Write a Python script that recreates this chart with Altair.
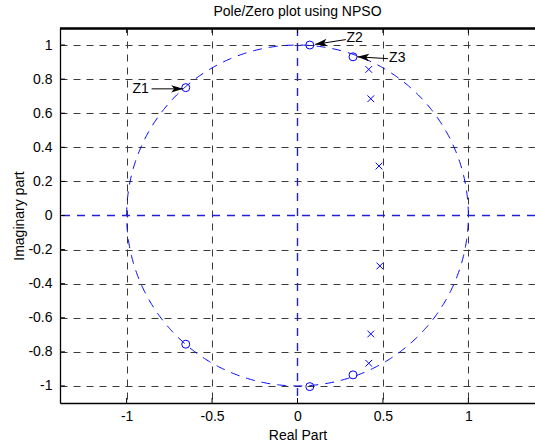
import math
import numpy as np
import pandas as pd
import altair as alt

# Zeros (o) and poles (x) of the NPSO filter in the z-plane
zero_re = [-0.654, 0.072, 0.325, -0.654, 0.072, 0.325]
zero_im = [0.750, 1.000, 0.931, -0.755, -1.004, -0.935]
pole_re = [0.417, 0.429, 0.477, 0.482, 0.429, 0.417]
pole_im = [0.857, 0.685, 0.290, -0.296, -0.695, -0.867]

# Annotations: label text/position and arrow tail -> head
ann_text = ["Z1", "Z2", "Z3"]
ann_align = ["right", "left", "left"]
ann_text_re = [-0.870, 0.287, 0.536]
ann_text_im = [0.743, 1.040, 0.925]
ann_tail_re = [-0.854, 0.283, 0.530]
ann_tail_im = [0.743, 1.032, 0.920]
ann_head_re = [-0.669, 0.103, 0.349]
ann_head_im = [0.743, 1.004, 0.931]

x_ticks = [-1, -0.5, 0, 0.5, 1]
y_ticks = [-1, -0.8, -0.6, -0.4, -0.2, 0, 0.2, 0.4, 0.6, 0.8, 1]

X_DOMAIN = [-1.39, 1.39]
Y_DOMAIN = [-1.1, 1.1]
W, H = 475, 375
FONT = "Liberation Sans"
FS = 14
BLUE = "#0000ff"
AXIS_BLUE = "#2020d8"

xs = alt.Scale(domain=X_DOMAIN, nice=False, zero=False)
ys = alt.Scale(domain=Y_DOMAIN, nice=False, zero=False)

# grid is hidden on the zero lines, which carry the blue real/imaginary axes instead
no_zero_grid = {"condition": {"test": "datum.value === 0", "value": 0}, "value": 1}

x_axis = alt.Axis(
    values=x_ticks, title="Real Part", grid=True, gridDash=[7, 6], gridColor="#3a3a3a",
    gridWidth=1, gridOpacity=no_zero_grid, ticks=False, tickSize=0, labelPadding=6.5,
    labelExpr="'' + datum.value", domainColor="black", domainWidth=1.3,
    titleX=W / 2, titleY=36.4, titleAlign="center", titleBaseline="alphabetic",
)
y_axis = alt.Axis(
    values=y_ticks, title="Imaginary part", grid=True, gridDash=[7, 6], gridColor="#3a3a3a",
    gridWidth=1, gridOpacity=no_zero_grid, ticks=False, tickSize=0, labelPadding=8,
    labelExpr="'' + datum.value", domainColor="black", domainWidth=1.3,
    titleAngle=270, titleX=-37, titleY=H / 2, titleAlign="center",
    titleBaseline="alphabetic",
)


def X(field):
    return alt.X(field, scale=xs, axis=x_axis)


def Y(field):
    return alt.Y(field, scale=ys, axis=y_axis)


# unit circle reference
theta = np.linspace(0, 2 * np.pi, 721)
circle_df = pd.DataFrame({"re": np.cos(theta), "im": np.sin(theta), "k": np.arange(theta.size)})

zeros_df = pd.DataFrame({"re": zero_re, "im": zero_im})
poles_df = pd.DataFrame({"re": pole_re, "im": pole_im})

# arrow-head rotation from the arrow direction in screen space
sx = W / (X_DOMAIN[1] - X_DOMAIN[0])
sy = H / (Y_DOMAIN[1] - Y_DOMAIN[0])
angles = [
    math.degrees(math.atan2(-(hy - ty) * sy, (hx - tx) * sx)) % 360
    for tx, ty, hx, hy in zip(ann_tail_re, ann_tail_im, ann_head_re, ann_head_im)
]
ann_df = pd.DataFrame({
    "text": ann_text, "align": ann_align,
    "tre": ann_text_re, "tim": ann_text_im,
    "re": ann_tail_re, "im": ann_tail_im,
    "re2": ann_head_re, "im2": ann_head_im,
    "ang": angles,
})

unit_circle = alt.Chart(circle_df).mark_line(
    color=BLUE, strokeWidth=1, strokeDash=[9, 7]
).encode(x=X("re:Q"), y=Y("im:Q"), order="k:Q")

vline = alt.Chart(pd.DataFrame({"re": [0]})).mark_rule(
    color=AXIS_BLUE, strokeWidth=1.4, strokeDash=[8, 7]
).encode(x=X("re:Q"))
hline = alt.Chart(pd.DataFrame({"im": [0]})).mark_rule(
    color=AXIS_BLUE, strokeWidth=1.7, strokeDash=[8, 7]
).encode(y=Y("im:Q"))

zeros = alt.Chart(zeros_df).mark_point(
    shape="circle", size=64, filled=False, color=BLUE, strokeWidth=1, opacity=1
).encode(x=X("re:Q"), y=Y("im:Q"))

poles = alt.Chart(poles_df).mark_point(
    shape="M-1,-1L1,1M-1,1L1,-1", size=45, filled=False, color=BLUE, strokeWidth=1, opacity=1
).encode(x=X("re:Q"), y=Y("im:Q"))

arrows = alt.Chart(ann_df).mark_rule(color="black", strokeWidth=1).encode(
    x=X("re:Q"), y=Y("im:Q"), x2="re2:Q", y2="im2:Q",
)
heads = alt.Chart(ann_df).mark_point(
    shape="M0,0L-2,-0.62L-1.5,0L-2,0.62Z", size=144, filled=True, color="black",
    strokeWidth=0, opacity=1
).encode(x=X("re2:Q"), y=Y("im2:Q"), angle=alt.Angle("ang:Q", scale=None))

labels_r = alt.Chart(ann_df).transform_filter("datum.align == 'right'").mark_text(
    align="right", baseline="middle", font=FONT, fontSize=FS, color="black"
).encode(x=X("tre:Q"), y=Y("tim:Q"), text="text:N")
labels_l = alt.Chart(ann_df).transform_filter("datum.align == 'left'").mark_text(
    align="left", baseline="middle", font=FONT, fontSize=FS, color="black"
).encode(x=X("tre:Q"), y=Y("tim:Q"), text="text:N")

# inward tick marks on the box edges and the top edge of the box
xt_df = pd.DataFrame({"re": x_ticks})
yt_df = pd.DataFrame({"im": y_ticks})
ticks_bottom = alt.Chart(xt_df).mark_rule(color="black", strokeWidth=1).encode(
    x=X("re:Q"), y=alt.value(H), y2=alt.value(H - 5))
ticks_top = alt.Chart(xt_df).mark_rule(color="black", strokeWidth=1).encode(
    x=X("re:Q"), y=alt.value(0), y2=alt.value(5))
ticks_left = alt.Chart(yt_df).mark_rule(color="black", strokeWidth=1).encode(
    y=Y("im:Q"), x=alt.value(0), x2=alt.value(5))
top_edge = alt.Chart(xt_df).mark_rule(color="black", strokeWidth=1.3).encode(
    y=alt.value(0.5), x=alt.value(0), x2=alt.value(W))

chart = alt.layer(
    unit_circle, vline, hline, zeros, poles, arrows, heads, labels_r, labels_l,
    ticks_bottom, ticks_top, ticks_left, top_edge,
).properties(
    width=W, height=H,
    title=alt.TitleParams(
        "Pole/Zero plot using NPSO", font=FONT, fontSize=FS, fontWeight="normal",
        color="black", anchor="middle", offset=8,
    ),
    padding={"left": 60, "top": 28, "right": 0, "bottom": 41},
    autosize=alt.AutoSizeParams(type="none"),
).configure_view(stroke=None).configure_axis(
    labelFont=FONT, labelFontSize=FS, labelColor="black",
    titleFont=FONT, titleFontSize=FS, titleFontWeight="normal", titleColor="black",
)

chart.save("out.html", embed_options={"renderer": "svg", "actions": False})
